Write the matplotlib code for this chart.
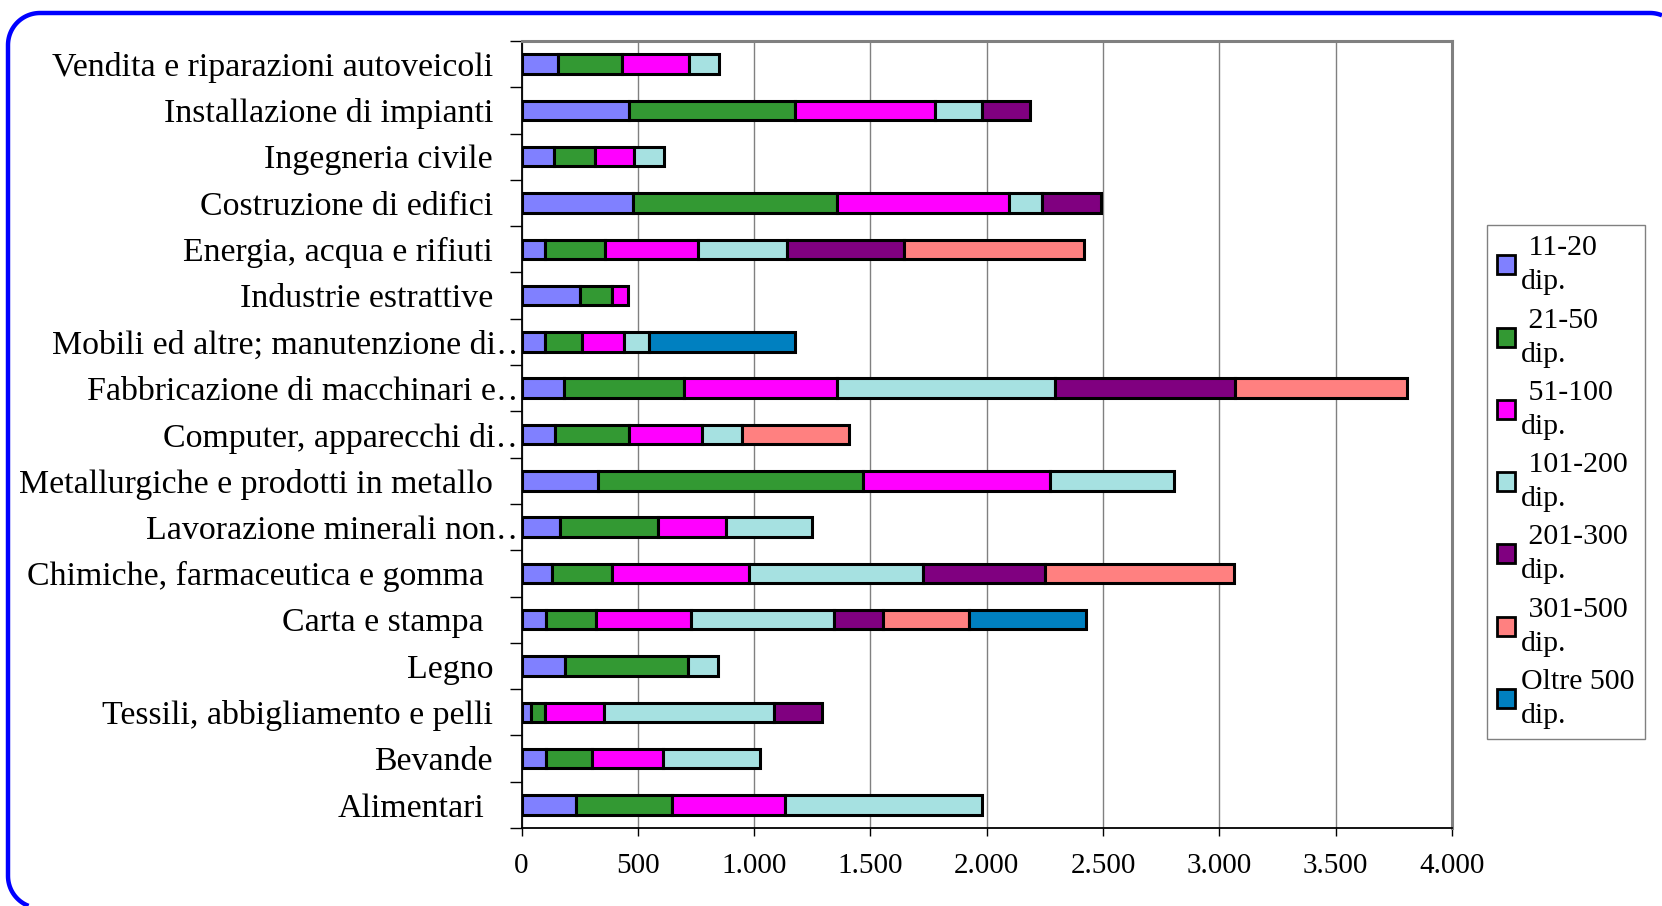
import numpy as np
import matplotlib
matplotlib.use("Agg")
import matplotlib.pyplot as plt
from matplotlib.lines import Line2D
from matplotlib.patches import Rectangle
from matplotlib.transforms import IdentityTransform, Bbox, TransformedBbox
from matplotlib.legend_handler import HandlerPatch
from matplotlib.ticker import FuncFormatter, MultipleLocator

plt.rcParams["font.family"] = ["Liberation Serif", "DejaVu Serif"]

# categories, top to bottom as in the chart
categories = [
    "Vendita e riparazioni autoveicoli",
    "Installazione di impianti",
    "Ingegneria civile",
    "Costruzione di edifici",
    "Energia, acqua e rifiuti",
    "Industrie estrattive",
    "Mobili ed altre; manutenzione di\u2026",
    "Fabbricazione di macchinari e\u2026",
    "Computer, apparecchi di\u2026",
    "Metallurgiche e prodotti in metallo",
    "Lavorazione minerali non\u2026",
    "Chimiche, farmaceutica e gomma",
    "Carta e stampa",
    "Legno",
    "Tessili, abbigliamento e pelli",
    "Bevande",
    "Alimentari",
]
# labels that Excel shows with a trailing blank
trailing_blank = ["Chimiche, farmaceutica e gomma", "Carta e stampa", "Alimentari"]

series_names = ["11-20", "21-50", "51-100", "101-200", "201-300", "301-500", "Oltre 500"]

s_11_20 = [156, 461, 140, 478, 99, 250, 99, 181, 143, 329, 165, 129, 104, 189, 41, 107, 236]
s_21_50 = [277, 716, 178, 878, 261, 140, 162, 519, 321, 1139, 423, 258, 217, 527, 60, 198, 412]
s_51_100 = [285, 601, 167, 738, 398, 66, 181, 656, 313, 804, 291, 593, 406, 0, 253, 302, 486]
s_101_200 = [132, 203, 129, 145, 384, 0, 104, 936, 170, 535, 371, 744, 618, 129, 730, 420, 845]
s_201_300 = [0, 206, 0, 253, 502, 0, 0, 777, 0, 0, 0, 527, 209, 0, 206, 0, 0]
s_301_500 = [0, 0, 0, 0, 774, 0, 0, 738, 461, 0, 0, 810, 368, 0, 0, 0, 0]
s_oltre_500 = [0, 0, 0, 0, 0, 0, 629, 0, 0, 0, 0, 0, 505, 0, 0, 0, 0]

series = [s_11_20, s_21_50, s_51_100, s_101_200, s_201_300, s_301_500, s_oltre_500]
colors = ["#8080FF", "#339933", "#FF00FF", "#A6E1E1", "#800080", "#FF8080", "#0080C0"]

W, H = 1662, 906
fig = plt.figure(figsize=(W / 100, H / 100), dpi=100)
ax_left = 521.5 / W
ax = fig.add_axes([ax_left, 1 - 828 / H, (1452 - 521.5) / W, (828 - 41) / H])

n = len(categories)
y = np.arange(n)[::-1]
left = np.zeros(n)
for name, vals, col in zip(series_names, series, colors):
    vals = np.array(vals, dtype=float)
    m = vals > 0
    lab = name + "\ndip." if name == "Oltre 500" else " " + name + "\ndip."
    ax.barh(y[m], vals[m], left=left[m], height=0.42, color=col,
            edgecolor="black", linewidth=2.2, zorder=3, label=lab)
    left += vals

ax.set_xlim(0, 4000)
ax.set_ylim(-0.5, n - 0.5)

ax.xaxis.set_major_locator(MultipleLocator(500))
ax.xaxis.set_major_formatter(FuncFormatter(lambda v, p: f"{int(v):,}".replace(",", ".")))
ax.tick_params(axis="x", direction="out", length=6, width=1, colors="black",
               labelsize=21, pad=12)
ax.grid(axis="x", color="#808080", linewidth=1, zorder=0)

ax.set_yticks(y)
ax.set_yticklabels(categories)
ax.set_yticks(np.arange(-0.5, n), minor=True)
ax.tick_params(axis="y", which="major", length=0, labelsize=24.4)
ax.tick_params(axis="y", which="minor", length=9, width=1, color="black")

# truncated labels run under the axis line, as in the source chart
clip = TransformedBbox(Bbox([[0, 0], [ax_left, 1]]), fig.transFigure)
for tick, c in zip(ax.yaxis.get_major_ticks(), categories):
    if c.endswith("\u2026"):
        tick.set_pad(-6)
        tick.label1.set_clip_box(clip)
        tick.label1.set_clip_on(True)
    elif c in trailing_blank:
        tick.set_pad(27)
    else:
        tick.set_pad(20.5)

for s in ["top", "right"]:
    ax.spines[s].set_color("#808080")
    ax.spines[s].set_linewidth(2.2)
for s in ["left", "bottom"]:
    ax.spines[s].set_color("black")
    ax.spines[s].set_linewidth(1.3)


def square_top(legend, orig_handle, xdescent, ydescent, width, height, fontsize):
    sz = 0.58 * fontsize
    return Rectangle((-xdescent + (width - sz) / 2, -ydescent + 1.45 * fontsize), sz, sz)


leg = ax.legend(loc="upper left", bbox_to_anchor=(1487 / W, 1 - 225 / H),
                bbox_transform=fig.transFigure, borderaxespad=0, fontsize=21.5,
                frameon=True, fancybox=False, edgecolor="#808080", framealpha=1,
                handlelength=0.6, handleheight=0.6, handletextpad=0.2,
                labelspacing=0.41, borderpad=0.35,
                handler_map={Rectangle: HandlerPatch(patch_func=square_top)})
leg.get_frame().set_linewidth(1)
for t in leg.get_texts():
    t.set_linespacing(1.4)
for h in leg.legend_handles:
    h.set_edgecolor("black")
    h.set_linewidth(2)

# blue rounded border, cut by the right and bottom edges of the picture
R, bx, top = 32, 8, H - 13
a1 = np.radians(np.linspace(249, 180, 20))
a2 = np.radians(np.linspace(180, 90, 30))
a3 = np.radians(np.linspace(90, 68, 10))
bxs = np.concatenate([bx + R + R * np.cos(a1), bx + R + R * np.cos(a2), 1650 + R * np.cos(a3)])
bys = np.concatenate([30 + R * np.sin(a1), top - R + R * np.sin(a2), top - R + R * np.sin(a3)])
fig.add_artist(Line2D(bxs, bys, transform=IdentityTransform(), color="#0000FF",
                      linewidth=3.2, solid_joinstyle="round", solid_capstyle="butt"))

fig.savefig("out.png", dpi=100)
